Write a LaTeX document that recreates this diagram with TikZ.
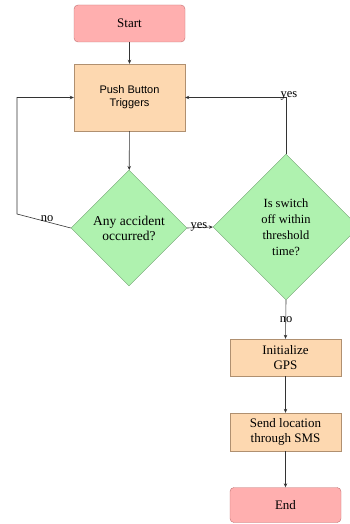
\documentclass[tikz,border=0pt]{standalone}
\usepackage{fontspec}
\setmainfont{Liberation Serif}
\setsansfont{Liberation Sans}
\usetikzlibrary{shapes.geometric,arrows.meta}
\definecolor{termfill}{HTML}{FFAFAF}
\definecolor{termdraw}{HTML}{C07070}
\definecolor{procfill}{HTML}{FDD8B0}
\definecolor{procdraw}{HTML}{B09070}
\definecolor{decfill}{HTML}{AFF2AF}
\definecolor{decdraw}{HTML}{70A070}
\tikzset{
  term/.style={draw=termdraw, fill=termfill, rounded corners=4pt, minimum width=111pt, minimum height=37pt, inner sep=0pt, font=\fontsize{13}{15}\selectfont, align=center},
  proc/.style={draw=procdraw, fill=procfill, minimum width=111pt, minimum height=37pt, inner sep=0pt, font=\fontsize{13}{15}\selectfont, align=center},
  dec/.style={draw=decdraw, fill=decfill, diamond, aspect=1, inner sep=0pt, align=center},
  conn/.style={draw=black!80, line width=0.6pt, -{Stealth[length=4pt,width=3.5pt]}},
  lbl/.style={font=\fontsize{12.5}{14}\selectfont, inner sep=0pt}
}
\begin{document}
\begin{tikzpicture}[x=1pt,y=-1pt]
\useasboundingbox (0,0) rectangle (350,524);
\node[term] (start) at (129.5,23.5) {Start};
\node[proc, minimum height=67pt, font=\sffamily\fontsize{11}{13}\selectfont] (push) at (129.5,97.5) {Push Button\\Triggers};
\node[dec, minimum width=116pt, minimum height=116pt, font=\fontsize{13.5}{15}\selectfont] (acc) at (129,228) {Any accident\\occurred?};
\node[dec, minimum width=146pt, minimum height=146pt, font=\fontsize{12.5}{16}\selectfont] (sw) at (286,227) {Is switch\\off within\\threshold\\time?};
\node[proc] (gps) at (285.5,357.5) {Initialize\\GPS};
\node[proc, minimum height=38pt] (sms) at (285.5,432) {Send location\\through SMS};
\node[term, minimum height=35pt] (end) at (285.5,505) {End};
\coordinate (lb) at (17,214);
\coordinate (lt) at (17,97.5);
\coordinate (rt) at (286,97.5);
\draw[conn] (start) -- (push);
\draw[conn] (push) -- (acc);
\draw[conn] (acc.west) -- (lb) -- (lt) -- (push.west);
\node[lbl] (no1) at (47,219) {no};
\draw[conn] (acc.east) -- (sw.west);
\node[lbl] (yes1) at (199,227) {yes};
\draw[conn] (sw.north) -- (rt) -- (push.east);
\node[lbl] (yes2) at (289,96) {yes};
\draw[conn] (sw.south) -- (gps.north);
\node[lbl] (no2) at (286,320) {no};
\draw[conn] (gps) -- (sms);
\draw[conn] (sms) -- (end);
\end{tikzpicture}
\end{document}
